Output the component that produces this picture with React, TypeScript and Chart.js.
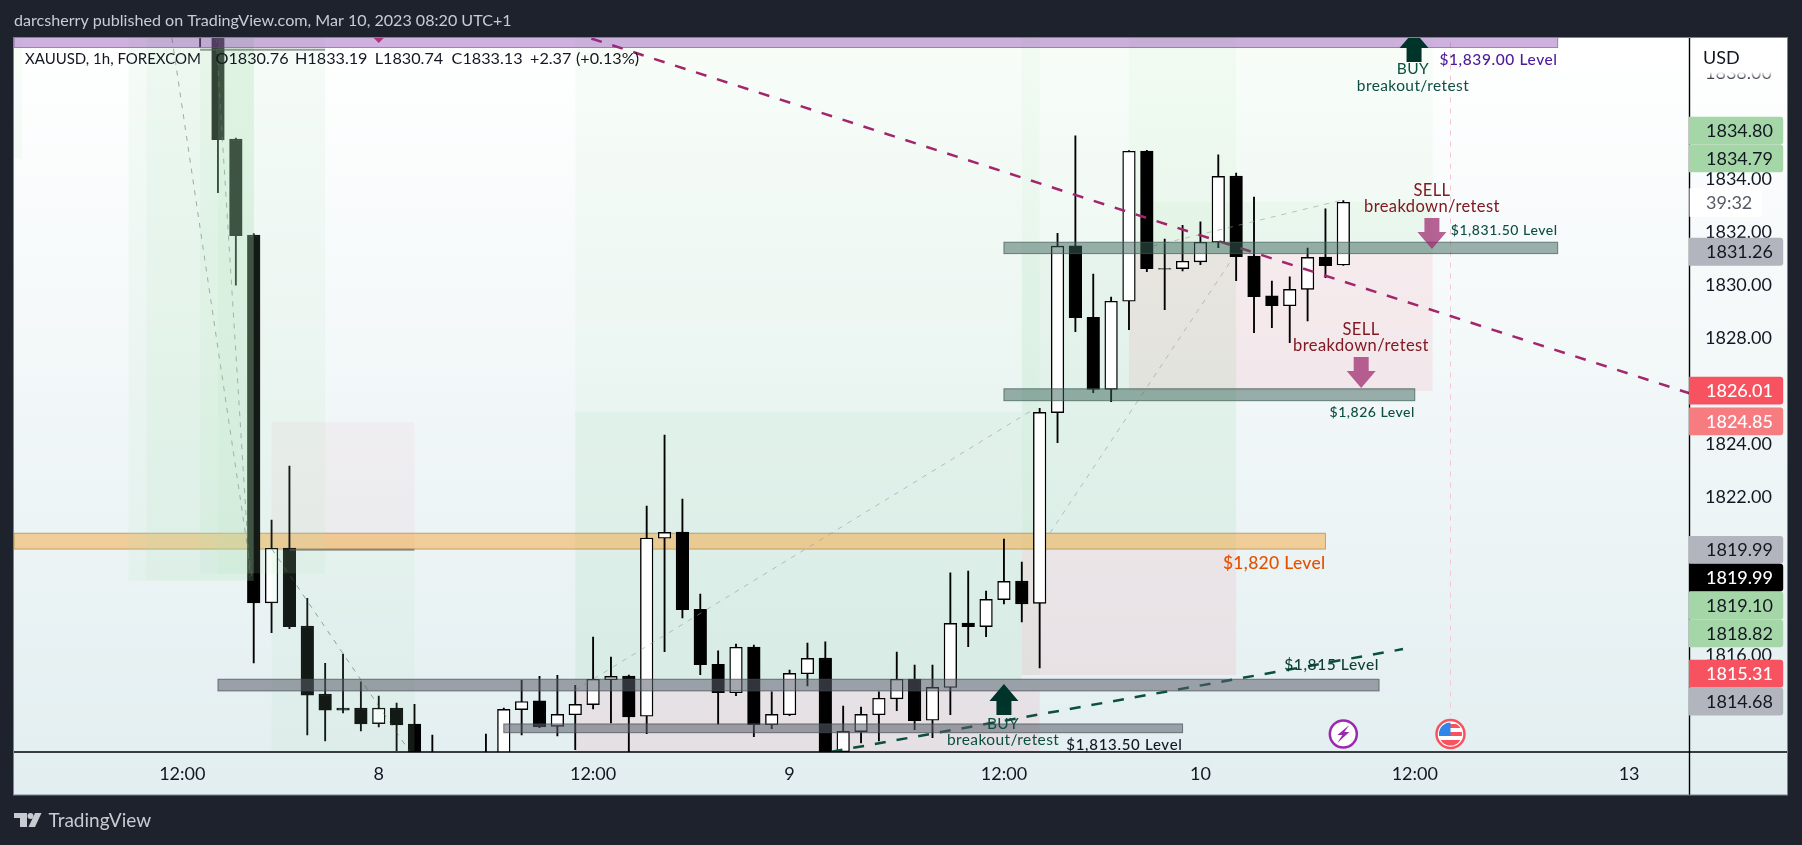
import React, { useEffect, useRef } from 'react';
import { Chart, registerables } from 'chart.js';

Chart.register(...registerables);

// Bars are indexed by hour, skipping the daily break. The first listed bar is index -1.
const firstBar = -1;
const opens = [1843.5, 1842.5, 1835.52, 1831.89, 1817.99, 1820.06, 1817.11, 1814.54, 1814.01, 1814.01, 1813.42, 1814.01, 1813.41, 1812.0, 1811.0, 1811.2, 1811.4, 1811.5, 1813.95, 1814.28, 1813.32, 1813.76, 1814.14, 1815.08, 1815.22, 1813.7, 1820.43, 1820.66, 1817.74, 1815.66, 1814.59, 1816.32, 1813.38, 1813.76, 1815.31, 1815.9, 1812.36, 1813.12, 1813.76, 1814.36, 1815.11, 1813.55, 1814.79, 1817.22, 1817.09, 1818.11, 1818.81, 1817.97, 1825.18, 1831.48, 1828.78, 1826.06, 1829.39, 1835.07, 1830.62, 1830.62, 1830.88, 1831.62, 1834.12, 1831.1, 1829.59, 1829.22, 1829.84, 1831.06, 1830.76];
const closes = [1842.0, 1835.5, 1831.87, 1817.99, 1820.05, 1817.09, 1814.5, 1813.93, 1813.93, 1813.41, 1814.01, 1813.37, 1811.0, 1811.0, 1810.6, 1811.8, 1811.9, 1813.96, 1814.26, 1813.3, 1813.77, 1814.15, 1815.1, 1815.21, 1813.68, 1820.44, 1820.65, 1817.73, 1815.65, 1814.59, 1816.31, 1813.38, 1813.77, 1815.32, 1815.89, 1812.0, 1813.13, 1813.77, 1814.38, 1815.1, 1813.53, 1814.79, 1817.21, 1817.09, 1818.12, 1818.8, 1817.95, 1825.19, 1831.47, 1828.77, 1826.06, 1829.39, 1835.06, 1830.62, 1830.6, 1830.9, 1831.62, 1834.11, 1831.07, 1829.56, 1829.22, 1829.84, 1831.05, 1830.73, 1833.13];
const highs = [1844.0, 1843.0, 1835.56, 1831.95, 1821.12, 1823.16, 1818.16, 1815.7, 1816.05, 1815.0, 1814.46, 1814.2, 1814.15, 1812.99, 1811.6, 1811.9, 1813.03, 1814.01, 1815.06, 1815.21, 1815.25, 1814.87, 1816.69, 1815.94, 1815.26, 1821.65, 1824.33, 1821.91, 1818.32, 1816.17, 1816.43, 1816.39, 1814.62, 1815.45, 1816.47, 1816.51, 1814.09, 1814.05, 1814.62, 1816.13, 1815.64, 1815.64, 1819.12, 1819.19, 1818.43, 1820.4, 1819.53, 1825.34, 1831.96, 1835.64, 1830.42, 1829.55, 1835.08, 1835.09, 1831.74, 1832.26, 1832.39, 1834.92, 1834.23, 1833.33, 1830.15, 1830.31, 1831.4, 1832.88, 1833.19];
const lows = [1839.0, 1833.49, 1830.0, 1815.72, 1816.86, 1817.01, 1813.0, 1812.77, 1813.83, 1813.15, 1813.3, 1812.4, 1810.0, 1810.5, 1810.2, 1810.8, 1811.0, 1811.2, 1813.0, 1813.27, 1812.96, 1812.44, 1813.98, 1813.45, 1811.5, 1813.04, 1816.14, 1817.42, 1815.27, 1813.4, 1814.48, 1812.93, 1813.23, 1813.72, 1814.85, 1811.8, 1812.3, 1812.69, 1812.77, 1813.91, 1813.19, 1812.89, 1813.76, 1816.33, 1816.71, 1817.95, 1817.27, 1815.53, 1824.04, 1828.24, 1825.93, 1825.59, 1828.31, 1830.51, 1829.07, 1830.54, 1830.77, 1831.41, 1830.17, 1828.2, 1828.39, 1827.82, 1828.65, 1830.28, 1830.74];

const priceTicks = [1816, 1818, 1820, 1822, 1824, 1826, 1828, 1830, 1832, 1834, 1836, 1838];
const timeTicks = [-2, 9, 21, 32, 44, 55, 67, 79];
const timeLabels = ['12:00', '8', '12:00', '9', '12:00', '10', '12:00', '13'];
const priceRange = [1812.35, 1839.34];
const barRange = [-11.42, 82.38];

// Shaded zones as [from bar, to bar, low price, high price]
const faintGreenZones = [
  [-11.42, -10.97, 1834.8, 1840],
  [20, 46, 1831.2, 1840],
  [45, 68, 1831.2, 1840],
  [51, 57, 1831.2, 1840],
  [52.35, 68, 1831.2, 1833.14],
  [20, 45, 1825.2, 1831.2],
  [45, 46, 1815.26, 1831.2],
];
const greenZones = [
  [20, 45, 1815.07, 1825.2],
  [45, 57, 1820.02, 1831.2],
];
const pinkZones = [
  [51, 68, 1826, 1831.2],
  [45, 57, 1815.26, 1820.02],
  [20, 46, 1812, 1814.68],
];
const palePinkZones = [[3, 11, 1820, 1824.82]];
const overlayGreenZones = [
  [-5, 2, 1818.82, 1840],
  [-4, 2, 1818.82, 1840],
  [-1, 6, 1819.1, 1840],
  [0, 2, 1819.1, 1840],
  [3, 11, 1812, 1820],
];

// Horizontal levels as [from bar, to bar, low price, high price]
const orangeLevel = [-11.42, 62, 1820.02, 1820.62];
const greyLevels = [
  [0, 65, 1814.66, 1815.1],
  [16, 54, 1813.08, 1813.41],
];
const tealLevels = [
  [44, 75, 1831.19, 1831.62],
  [44, 67, 1825.63, 1826.08],
];
const purpleLevel = [-11.42, 75, 1838.98, 1840];
const hairLevels = [
  [-1, 6, 1838.9],
  [4, 11, 1820],
];

const pinkTrend = [{ x: 20.9, y: 1839.32 }, { x: 82.38, y: 1825.91 }];
const greenTrend = [{ x: 34.35, y: 1812.36 }, { x: 66.34, y: 1816.24 }];
const eventLine = [{ x: 69, y: 1840 }, { x: 69, y: 1813.75 }];
const zigzagDark = [
  [{ x: -2.58, y: 1839.34 }, { x: 1.9, y: 1818.96 }],
  [{ x: -0.11, y: 1839.34 }, { x: 1.79, y: 1818.96 }],
  [{ x: 3.02, y: 1820.02 }, { x: 10.75, y: 1812.35 }],
];
const zigzagLight = [
  [{ x: 20, y: 1814.69 }, { x: 45.6, y: 1825.28 }],
  [{ x: 46.58, y: 1820.63 }, { x: 56.82, y: 1831.03 }],
  [{ x: 52.35, y: 1831.48 }, { x: 62.98, y: 1833.22 }],
];

// Text notes: text, bar, price
const buyNotes = [
  ['BUY', 66.9, 1838.17],
  ['breakout/retest', 66.9, 1837.53],
  ['BUY', 43.95, 1813.41],
  ['breakout/retest', 43.95, 1812.8],
];
const sellNotes = [
  ['SELL', 67.96, 1833.56],
  ['breakdown/retest', 67.96, 1832.95],
  ['SELL', 63.99, 1828.3],
  ['breakdown/retest', 63.99, 1827.7],
];
const upArrows = [[66.96, 1839.6], [44, 1814.92]];
const downArrows = [[67.96, 1831.36], [64, 1826.11]];

// Price tags on the axis: text, anchor price, stack row, colour kind
const priceTags = [
  ['1834.80', 1834.79, -1, 'green'],
  ['1834.79', 1834.79, 0, 'green'],
  ['1831.26', 1831.26, 0, 'grey'],
  ['1826.01', 1826.01, 0, 'red'],
  ['1824.85', 1824.85, 0, 'salmon'],
  ['1819.99', 1819.99, 0, 'grey'],
  ['1819.99', 1819.99, 1, 'black'],
  ['1819.10', 1819.99, 2, 'green'],
  ['1818.82', 1819.99, 3, 'green'],
  ['1815.31', 1815.31, 0, 'red'],
  ['1814.68', 1815.31, 1, 'grey'],
];
const tagColours: Record<string, string[]> = {
  green: ['#a5d6a7', '#131722'],
  grey: ['#b2b5be', '#131722'],
  red: ['#f7525f', '#ffffff'],
  salmon: ['#f77c80', '#ffffff'],
  black: ['#000000', '#ffffff'],
};

const FONT = 'Lato, "Open Sans", sans-serif';
const INK = '#131722';

const barIndexes = opens.map((_, i) => firstBar + i);

function label(ctx: CanvasRenderingContext2D, text: string, x: number, y: number, font: string, colour: string, align: CanvasTextAlign = 'left', spacing = 0) {
  ctx.font = font;
  ctx.fillStyle = colour;
  ctx.textAlign = align;
  ctx.textBaseline = 'middle';
  (ctx as any).letterSpacing = spacing + 'px';
  ctx.fillText(text, x, y);
  (ctx as any).letterSpacing = '0px';
}

function zone(chart: any, z: number[], fill: string, stroke?: string) {
  const { x, y } = chart.scales;
  const { ctx } = chart;
  const x0 = x.getPixelForValue(z[0]);
  const x1 = x.getPixelForValue(z[1]);
  const y0 = y.getPixelForValue(z[3]);
  const y1 = y.getPixelForValue(z[2]);
  ctx.fillStyle = fill;
  ctx.fillRect(x0, y0, x1 - x0, y1 - y0);
  if (stroke) {
    ctx.strokeStyle = stroke;
    ctx.lineWidth = 1;
    ctx.strokeRect(x0, y0, x1 - x0, y1 - y0);
  }
}

function blockArrow(ctx: CanvasRenderingContext2D, cx: number, tip: number, dir: number, fill: string) {
  ctx.fillStyle = fill;
  ctx.beginPath();
  ctx.moveTo(cx, tip);
  ctx.lineTo(cx + 14.5, tip + dir * 17);
  ctx.lineTo(cx + 7.5, tip + dir * 17);
  ctx.lineTo(cx + 7.5, tip + dir * 31);
  ctx.lineTo(cx - 7.5, tip + dir * 31);
  ctx.lineTo(cx - 7.5, tip + dir * 17);
  ctx.lineTo(cx - 14.5, tip + dir * 17);
  ctx.closePath();
  ctx.fill();
}

const chartDecor = {
  id: 'chartDecor',
  beforeDraw(chart: any) {
    const { ctx, chartArea } = chart;
    ctx.save();
    ctx.fillStyle = '#1e222d';
    ctx.fillRect(0, 0, chart.width, chart.height);
    const grad = ctx.createLinearGradient(0, 38, 0, 795);
    grad.addColorStop(0, '#ffffff');
    grad.addColorStop(1, '#e2eef0');
    ctx.fillStyle = grad;
    ctx.fillRect(chartArea.left, 38, 1788 - chartArea.left, 757);
    ctx.restore();
  },
  beforeDatasetsDraw(chart: any) {
    const { ctx, chartArea } = chart;
    ctx.save();
    ctx.beginPath();
    ctx.rect(chartArea.left, chartArea.top, chartArea.width, chartArea.height);
    ctx.clip();
    faintGreenZones.forEach((z) => zone(chart, z, 'rgba(120,210,130,0.055)'));
    greenZones.forEach((z) => zone(chart, z, 'rgba(115,205,140,0.12)'));
    pinkZones.forEach((z) => zone(chart, z, 'rgba(240,80,100,0.09)'));
    palePinkZones.forEach((z) => zone(chart, z, 'rgba(240,80,100,0.05)'));
    zone(chart, orangeLevel, 'rgba(245,165,60,0.5)', 'rgba(150,130,60,0.6)');
    ctx.restore();
  },
  afterDatasetsDraw(chart: any) {
    const { ctx, chartArea, scales } = chart;
    const { x, y } = scales;
    ctx.save();
    ctx.beginPath();
    ctx.rect(chartArea.left, chartArea.top, chartArea.width, chartArea.height);
    ctx.clip();
    overlayGreenZones.forEach((z) => zone(chart, z, 'rgba(170,230,180,0.11)'));
    greyLevels.forEach((z) => zone(chart, z, 'rgba(90,95,105,0.55)', 'rgba(70,75,85,0.7)'));
    tealLevels.forEach((z) => zone(chart, z, 'rgba(60,100,90,0.5)', 'rgba(60,90,85,0.7)'));
    ctx.strokeStyle = 'rgba(90,90,90,0.6)';
    ctx.lineWidth = 2;
    hairLevels.forEach((h) => {
      ctx.beginPath();
      ctx.moveTo(x.getPixelForValue(h[0]), y.getPixelForValue(h[2]));
      ctx.lineTo(x.getPixelForValue(h[1]), y.getPixelForValue(h[2]));
      ctx.stroke();
    });
    zone(chart, purpleLevel, 'rgba(130,50,170,0.38)', 'rgba(110,70,130,0.6)');
    // small marker at the top edge
    const mx = x.getPixelForValue(9);
    ctx.fillStyle = '#b0357f';
    ctx.beginPath();
    ctx.moveTo(mx - 5, chartArea.top);
    ctx.lineTo(mx + 5, chartArea.top);
    ctx.lineTo(mx, chartArea.top + 5);
    ctx.fill();
    upArrows.forEach((a) => blockArrow(ctx, x.getPixelForValue(a[0]), y.getPixelForValue(a[1]), 1, '#00332a'));
    downArrows.forEach((a) => blockArrow(ctx, x.getPixelForValue(a[0]), y.getPixelForValue(a[1]), -1, 'rgba(156,39,110,0.72)'));
    ctx.restore();

    ctx.save();
    const notes = (list: any[], size: number, colour: string) =>
      list.forEach((n) => label(ctx, n[0], x.getPixelForValue(n[1]), y.getPixelForValue(n[2]), size + 'px ' + FONT, colour, 'center', 0.4));
    notes(buyNotes, 15.5, '#0d4f41');
    notes(sellNotes, 16.5, '#801922');
    const at = (b: number, p: number): [number, number] => [x.getPixelForValue(b), y.getPixelForValue(p)];
    label(ctx, '$1,839.00 Level', ...at(75, 1838.52), '500 15.5px ' + FONT, '#4a1a9c', 'right', 0.6);
    label(ctx, '$1,831.50 Level', ...at(75, 1832.06), '500 14px ' + FONT, '#0d4f41', 'right', 0.55);
    label(ctx, '$1,826 Level', ...at(67, 1825.2), '500 14px ' + FONT, '#0d4f41', 'right', 0.5);
    label(ctx, '$1,820 Level', ...at(62, 1819.49), '500 17.5px ' + FONT, '#e65100', 'right', 0.3);
    label(ctx, '$1,815 Level', ...at(65, 1815.64), '500 15.5px ' + FONT, '#0d3d35', 'right', 0.6);
    label(ctx, '$1,813.50 Level', ...at(54, 1812.62), '500 15px ' + FONT, INK, 'right', 0.7);

    // legend row
    const n = opens.length - 1;
    const row = 59;
    const big = '16.2px ' + FONT;
    label(ctx, 'XAUUSD, 1h, FOREXCOM', 25, row, '15px ' + FONT, INK);
    label(ctx, 'O' + opens[n], 215.5, row, big, INK);
    label(ctx, 'H' + highs[n], 295, row, big, INK);
    label(ctx, 'L' + lows[n], 374.7, row, big, INK);
    label(ctx, 'C' + closes[n], 451.6, row, big, INK);
    label(ctx, '+2.37', 530, row, big, INK);
    label(ctx, '(+0.13%)', 576, row, big, INK);

    // session events at the foot of the pane
    const boltX = x.getPixelForValue(63);
    const flagX = x.getPixelForValue(69);
    const iconY = chartArea.bottom - 18;
    ctx.fillStyle = '#ffffff';
    ctx.strokeStyle = '#9c27b0';
    ctx.lineWidth = 2.5;
    ctx.beginPath();
    ctx.arc(boltX, iconY, 13.5, 0, Math.PI * 2);
    ctx.fill();
    ctx.stroke();
    ctx.fillStyle = '#9c27b0';
    ctx.beginPath();
    ctx.moveTo(boltX + 6, iconY - 9);
    ctx.lineTo(boltX - 6, iconY + 1);
    ctx.lineTo(boltX - 1, iconY + 1);
    ctx.lineTo(boltX - 6, iconY + 9);
    ctx.lineTo(boltX + 6, iconY - 2);
    ctx.lineTo(boltX + 1, iconY - 2);
    ctx.closePath();
    ctx.fill();
    ctx.fillStyle = '#ffffff';
    ctx.strokeStyle = '#f7525f';
    ctx.lineWidth = 2.5;
    ctx.beginPath();
    ctx.arc(flagX, iconY, 14, 0, Math.PI * 2);
    ctx.fill();
    ctx.stroke();
    ctx.save();
    ctx.beginPath();
    ctx.arc(flagX, iconY, 11.5, 0, Math.PI * 2);
    ctx.clip();
    ctx.fillStyle = '#f7525f';
    ctx.fillRect(flagX - 12, iconY - 2, 24, 4);
    ctx.fillRect(flagX - 12, iconY + 6, 24, 6);
    ctx.fillRect(flagX - 1, iconY - 10, 13, 4);
    ctx.fillStyle = '#2e86e8';
    ctx.fillRect(flagX - 12, iconY - 12, 12, 14);
    ctx.restore();
    ctx.restore();
  },
  afterDraw(chart: any) {
    const { ctx, chartArea, scales } = chart;
    const { y } = scales;
    ctx.save();
    const axisX = chartArea.right;
    const tagWidth = 94.2;
    const rowH = 27.8;

    // the top tick slides under the currency label
    const fade = ctx.createLinearGradient(0, 72, 0, 80);
    fade.addColorStop(0, 'rgba(255,255,255,1)');
    fade.addColorStop(1, 'rgba(255,255,255,0)');
    ctx.fillStyle = '#ffffff';
    ctx.fillRect(axisX + 1, 39, 97, 33);
    ctx.fillStyle = fade;
    ctx.fillRect(axisX + 1, 72, 97, 8);
    label(ctx, 'USD', axisX + 13.5, 58, '18px ' + FONT, INK);

    ctx.strokeStyle = '#000000';
    ctx.lineWidth = 1.4;
    ctx.beginPath();
    ctx.moveTo(axisX, 38);
    ctx.lineTo(axisX, 795);
    ctx.moveTo(chartArea.left, chartArea.bottom);
    ctx.lineTo(1788, chartArea.bottom);
    ctx.stroke();
    ctx.strokeStyle = '#7d8390';
    ctx.lineWidth = 1;
    ctx.strokeRect(chartArea.left - 0.5, 37.5, 1788 - chartArea.left, 757.5);

    // countdown
    const cY = y.getPixelForValue(closes[closes.length - 1]);
    ctx.fillStyle = '#ffffff';
    ctx.beginPath();
    ctx.roundRect(axisX, cY - 14, 72.5, 28.5, [0, 3, 3, 0]);
    ctx.fill();
    label(ctx, '39:32', axisX + 16.5, cY + 0.5, '18px ' + FONT, '#555a66');

    priceTags.forEach((t: any[]) => {
      const [bg, fg] = tagColours[t[3]];
      const cy = y.getPixelForValue(t[1]) + t[2] * rowH;
      ctx.fillStyle = bg;
      ctx.beginPath();
      ctx.roundRect(axisX - 0.5, cy - rowH / 2, tagWidth, rowH, [0, 3, 3, 0]);
      ctx.fill();
      label(ctx, t[0], axisX + 16.5, cy + 0.5, (fg === '#ffffff' ? '500 ' : '') + '18px ' + FONT, fg);
    });

    // page title and watermark on the dark frame
    label(ctx, 'darcsherry published on TradingView.com, Mar 10, 2023 08:20 UTC+1', 14, 21, '16.1px ' + FONT, '#c8ccd4');
    ctx.fillStyle = '#c9cbd3';
    ctx.fillRect(14, 813, 13, 5);
    ctx.fillRect(20, 813, 7, 14);
    ctx.beginPath();
    ctx.arc(30.5, 816, 3, 0, Math.PI * 2);
    ctx.fill();
    ctx.beginPath();
    ctx.moveTo(35, 813);
    ctx.lineTo(41.5, 813);
    ctx.lineTo(35, 827);
    ctx.lineTo(28.5, 827);
    ctx.closePath();
    ctx.fill();
    label(ctx, 'TradingView', 48.5, 821, '19px ' + FONT, '#c9cbd3');
    ctx.restore();
  },
};

const lineSet = (data: any[], colour: string, width: number, dash: number[]) => ({
  type: 'line' as const,
  data,
  borderColor: colour,
  borderWidth: width,
  borderDash: dash,
  pointRadius: 0,
  fill: false,
  order: 1,
});

export default function App() {
  const canvasRef = useRef<HTMLCanvasElement>(null);

  useEffect(() => {
    document.body.style.margin = '0';
    const ctx = canvasRef.current?.getContext('2d');
    if (!ctx) return;

    const chart = new Chart(ctx, {
      type: 'bar',
      data: {
        datasets: [
          lineSet(pinkTrend, '#a3266b', 2.5, [11, 11]),
          lineSet(greenTrend, '#0b4f3f', 2.5, [11, 11]),
          lineSet(eventLine, '#f4c6d4', 1, [5, 6]),
          ...zigzagDark.map((l) => lineSet(l, 'rgba(70,80,75,0.55)', 1, [5, 6])),
          ...zigzagLight.map((l) => lineSet(l, 'rgba(150,155,165,0.6)', 1, [5, 6])),
          {
            label: 'body',
            data: barIndexes.map((b, i) => ({ x: b, y: [opens[i], closes[i]] })),
            backgroundColor: opens.map((o, i) => (closes[i] >= o ? '#ffffff' : '#000000')),
            borderColor: '#000000',
            borderWidth: 1.4,
            borderSkipped: false,
            barThickness: 12.6,
            grouped: false,
            order: 2,
          },
          {
            label: 'wick',
            data: barIndexes.map((b, i) => ({ x: b, y: [lows[i], highs[i]] })),
            backgroundColor: '#000000',
            barThickness: 1.2,
            grouped: false,
            order: 3,
          },
        ] as any,
      },
      options: {
        responsive: false,
        animation: false,
        devicePixelRatio: 1,
        layout: { padding: { left: 14, top: 38, right: 14, bottom: 50 } },
        plugins: { legend: { display: false }, tooltip: { enabled: false }, title: { display: false } },
        scales: {
          x: {
            type: 'linear',
            min: barRange[0],
            max: barRange[1],
            offset: false,
            grid: { display: false, drawTicks: false },
            border: { display: false },
            afterBuildTicks: (scale: any) => {
              scale.ticks = timeTicks.map((value) => ({ value }));
            },
            afterFit: (scale: any) => {
              scale.height = 43;
            },
            ticks: {
              autoSkip: false,
              maxRotation: 0,
              padding: 11,
              color: INK,
              font: { family: FONT, size: 18 },
              callback: (value: any) => timeLabels[timeTicks.indexOf(value)],
            },
          },
          y: {
            position: 'right',
            min: priceRange[0],
            max: priceRange[1],
            grid: { display: false, drawTicks: false },
            border: { display: false },
            afterBuildTicks: (scale: any) => {
              scale.ticks = priceTicks.map((value) => ({ value }));
            },
            afterFit: (scale: any) => {
              scale.width = 98.5;
            },
            ticks: {
              padding: 15.5,
              color: INK,
              font: { family: FONT, size: 18 },
              callback: (value: any) => Number(value).toFixed(2),
            },
          },
        },
      },
      plugins: [chartDecor],
    } as any);

    return () => chart.destroy();
  }, []);

  return (
    <div style={{ width: 1802, height: 845, background: '#1e222d', overflow: 'hidden' }}>
      <canvas ref={canvasRef} width={1802} height={845} style={{ display: 'block' }} />
    </div>
  );
}
